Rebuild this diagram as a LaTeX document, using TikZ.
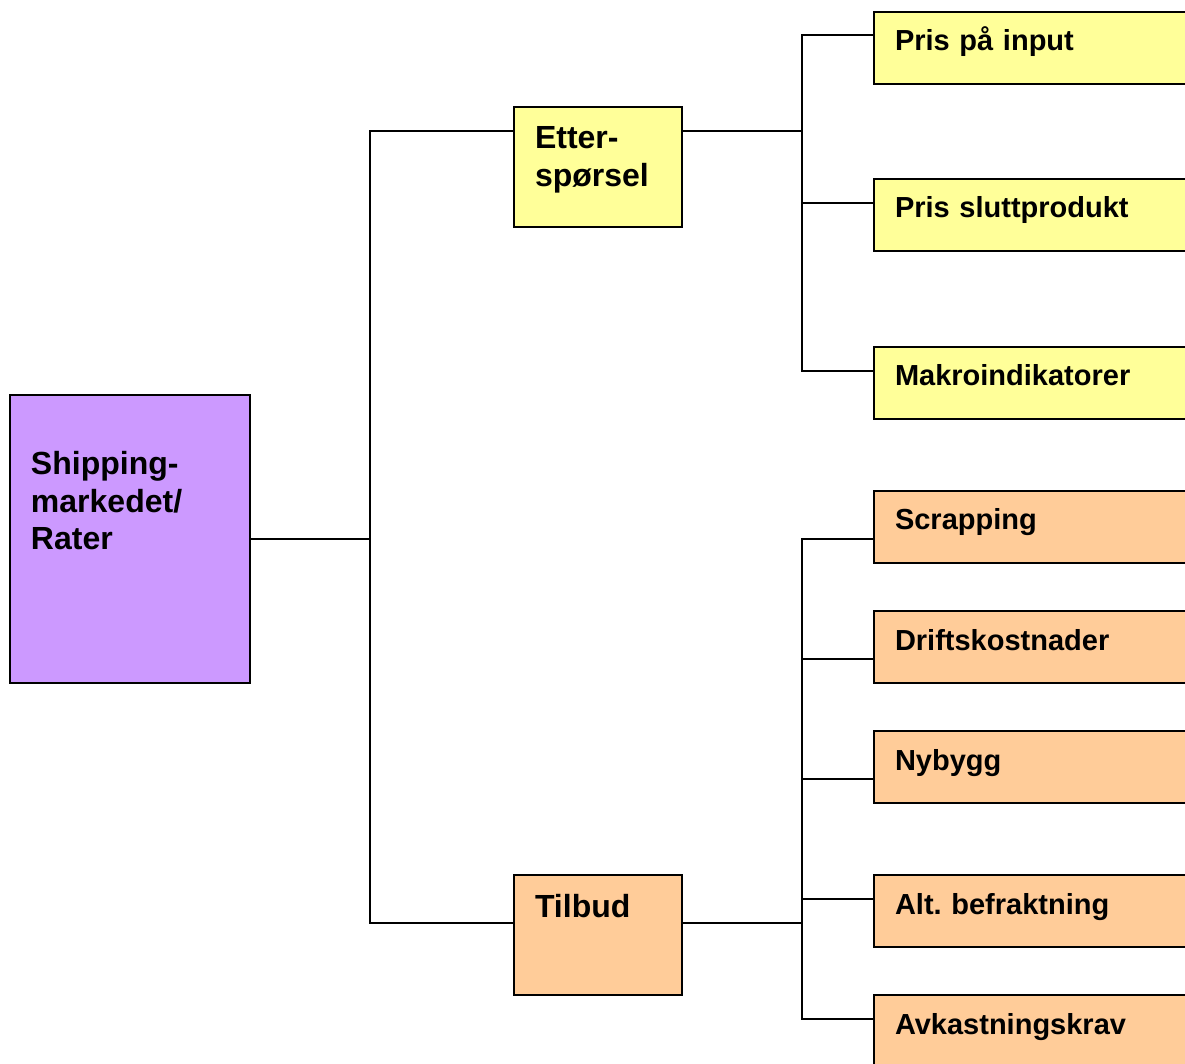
\documentclass[tikz,border=0pt]{standalone}
\usepackage{fontspec}
\setmainfont{Liberation Sans}
\usetikzlibrary{calc}
\frenchspacing

\definecolor{lilla}{RGB}{204,153,255}
\definecolor{gul}{RGB}{255,255,153}
\definecolor{oransje}{RGB}{255,204,153}

\begin{document}
\begin{tikzpicture}[x=0.5pt,y=-0.5pt,line width=1pt,
   box/.style={draw,anchor=north west,outer sep=0pt,inner xsep=10.5pt,
     inner ysep=0pt,align=left},
   big/.style={box,font=\fontsize{16}{18.75}\selectfont\bfseries},
   small/.style={box,font=\fontsize{14.5}{17}\selectfont\bfseries,
     text width=142pt,text height=19.5pt,text depth=16.5pt}]

\clip (0,0) rectangle (1185,1064);

% venstre side
\node[big,fill=lilla,text width=99pt,text height=40pt,text depth=104pt] (rate) at (10,395) {Shipping-\\markedet/\\Rater};
\node[big,fill=gul,text width=63pt,text height=21pt,text depth=39pt] (etter) at (514,107) {Etter-\\spørsel};
\node[big,fill=oransje,text width=63pt,text height=21pt,text depth=39pt] (tilbud) at (514,875) {Tilbud};

% etterspørsel
\node[small,fill=gul] (input) at (874,12) {Pris på input};
\node[small,fill=gul] (slutt) at (874,179) {Pris sluttprodukt};
\node[small,fill=gul] (makro) at (874,347) {Makroindikatorer};

% tilbud
\node[small,fill=oransje] (scrap) at (874,491) {Scrapping};
\node[small,fill=oransje] (drift) at (874,611) {Driftskostnader};
\node[small,fill=oransje] (nybygg) at (874,731) {Nybygg};
\node[small,fill=oransje] (befr) at (874,875) {Alt. befraktning};
\node[small,fill=oransje] (avk) at (874,995) {Avkastningskrav};

\draw (rate.east) -- ++(120,0);
\draw ($(etter.north west)+(0,24)$) -- ++(-144,0) |- ($(tilbud.north west)+(0,48)$);

\draw ($(etter.north east)+(0,24)$) -- ++(120,0);
\draw ($(input.north west)+(0,23)$) -- ++(-72,0) |- ($(makro.north west)+(0,24)$);
\draw ($(slutt.north west)+(0,24)$) -- ++(-72,0);

\draw ($(tilbud.north east)+(0,48)$) -- ++(120,0);
\draw ($(scrap.north west)+(0,48)$) -- ++(-72,0) |- ($(avk.north west)+(0,24)$);
\draw ($(drift.north west)+(0,48)$) -- ++(-72,0);
\draw ($(nybygg.north west)+(0,48)$) -- ++(-72,0);
\draw ($(befr.north west)+(0,24)$) -- ++(-72,0);

\end{tikzpicture}
\end{document}
